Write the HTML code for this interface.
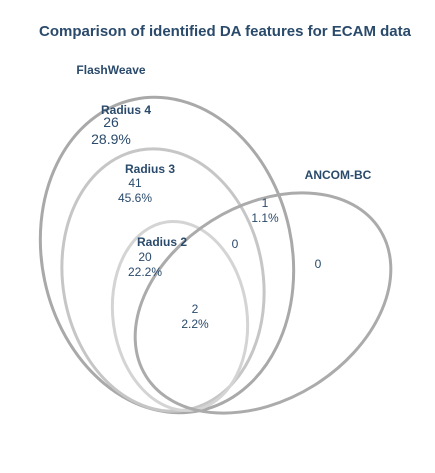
<!DOCTYPE html>
<html><head><meta charset="utf-8"><style>
body{margin:0;background:#fff;width:435px;height:468px;overflow:hidden}
text{font-family:"Liberation Sans",sans-serif;fill:#2a4a6b}
</style></head><body>
<svg id="chart" width="435" height="468" viewBox="0 0 435 468">
<text x="225" y="36" text-anchor="middle" font-size="15" font-weight="bold" fill="#2a4a6b">Comparison of identified DA features for ECAM data</text>
<g id="sets"></g><g id="labels"></g>
</svg>
<script>
const setNames=["FlashWeave","Radius 3","Radius 2","ANCOM-BC"];
const regionCounts=[26,41,20,0,1,2,0];
const regionPercents=["28.9%","45.6%","22.2%","","1.1%","2.2%",""];
const regionTitles=["Radius 4","Radius 3","Radius 2","","","",""];
const ns="http://www.w3.org/2000/svg";
const sets=document.getElementById('sets'),labels=document.getElementById('labels');
const shapes=[[167,255,125,159,-12,"#a9a9a9"],[163,280,100,132,-10,"#c6c6c6"],[180,316,67,95,-8,"#d4d4d4"],[263,303,138,97,-32,"#ababab"]];
shapes.forEach((s,i)=>{const e=document.createElementNS(ns,'ellipse');
e.setAttribute('cx',s[0]);e.setAttribute('cy',s[1]);e.setAttribute('rx',s[2]);e.setAttribute('ry',s[3]);
e.setAttribute('transform',`rotate(${s[4]} ${s[0]} ${s[1]})`);e.setAttribute('fill','none');e.setAttribute('stroke',s[5]);e.setAttribute('stroke-width','3');


sets.appendChild(e);});
function t(x,y,s,fs,bold,name){const e=document.createElementNS(ns,'text');e.setAttribute('x',x);e.setAttribute('y',y);e.setAttribute('text-anchor','middle');e.setAttribute('font-size',fs);if(bold)e.setAttribute('font-weight','bold');e.textContent=s;


labels.appendChild(e);}
t(111,74,setNames[0],12,true,'label-flashweave');
t(338,179,setNames[3],12,true,'label-ancom-bc');
// [countX, countY, fontSize, titleX, titleY, pctX, pctY]
const pos=[[111,127,14,126,114,111,144],[135,187,12,150,173,135,202],[145,261,12,162,246,145,276],[235,248,12],[265,207,12,0,0,265,222],[195,313,12,0,0,195,328],[318,268,12]];
pos.forEach((p,i)=>{const[x,y,fs]=p;
if(regionTitles[i])t(p[3],p[4],regionTitles[i],12,true,'region-title-'+i);
t(x,y,String(regionCounts[i]),fs,false,'region-count-'+i);
if(regionPercents[i])t(p[5],p[6],regionPercents[i],fs,false,'region-percent-'+i);});
</script>
</body></html>
